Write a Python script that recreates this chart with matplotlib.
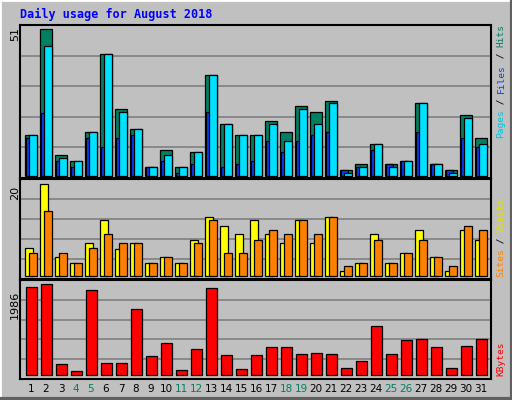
import numpy as np
import matplotlib.pyplot as plt
from matplotlib.lines import Line2D

days = np.arange(1, 32)
hits = [14.2, 51, 7.3, 5.2, 15.3, 42.3, 23.2, 16.3, 3.1, 9, 3.1, 8.3, 35, 18, 14.2, 14.2,
        19, 15.3, 24.3, 22.2, 26, 2, 4.2, 11, 4.2, 5.2, 25.3, 4.2, 2, 21, 13.2]
files = [14.2, 45, 6.2, 5.2, 15.3, 42.3, 22.2, 16.3, 3.1, 7.3, 3.1, 8.3, 35, 18, 14.2, 14.2,
         18, 12, 23.2, 18, 25.3, 1, 3.1, 11, 3.1, 5.2, 25.3, 4.2, 1, 20, 11]
pages = [13.2, 22, 5.2, 3.1, 13.2, 10, 13.2, 14.2, 3.1, 5.2, 1, 4.2, 22.2, 3.1, 4.2, 5.2,
         12, 8.3, 12, 14.2, 15.3, 2, 3.1, 9, 4.2, 5.2, 15.3, 4.2, 2, 13.2, 10]
visits = [6.1, 20, 4.1, 3, 7.2, 12.2, 6, 7.2, 3, 4.1, 3, 8, 13, 11, 9.1, 12.2,
          9.1, 7.2, 12.2, 7.2, 13, 1.1, 3, 9.1, 3, 5, 10, 4.1, 1.1, 10, 8]
sites = [5, 14.1, 5, 3, 6.1, 9.1, 7.2, 7.2, 3, 4.1, 3, 7.2, 12.2, 5, 5, 8,
         10, 9.1, 12.2, 9.1, 13, 2.2, 3, 8, 3, 5, 8, 4.1, 2.2, 11, 10]
kbytes = [1920, 1986, 240, 87, 1855, 262, 262, 1440, 415, 698, 109, 567, 1899, 436, 131, 436,
          611, 611, 458, 480, 458, 153, 306, 1069, 458, 764, 786, 611, 153, 633, 786]
weekend = [4, 5, 11, 12, 18, 19, 25, 26]

BG = '#C0C0C0'
W, H = 512, 400
fig = plt.figure(figsize=(5.12, 4.0), dpi=100, facecolor=BG)

# bevel border
fig.add_artist(Line2D([0, 0, 1], [0, 1, 1], transform=fig.transFigure, color='white', lw=2))
fig.add_artist(Line2D([0, 1, 1], [0.002, 0.002, 1], transform=fig.transFigure, color='#606060', lw=3))

fig.text(20 / W, 1 - 14 / H, 'Daily usage for August 2018', color='#0000FF', fontsize=8.5,
         fontweight='bold', family='DejaVu Sans Mono', va='center')

def mkax(top, bot):
    ax = fig.add_axes([20 / W, 1 - bot / H, 471 / W, (bot - top) / H])
    ax.set_facecolor(BG)
    ax.set_xlim(0.6667, 32.0667)
    ax.set_xticks([])
    ax.set_yticks([])
    for s in ax.spines.values():
        s.set_linewidth(1.5)
    for f in (0.2, 0.4, 0.6, 0.8):
        ax.plot([0, 1], [f, f], transform=ax.transAxes, color='#808080', lw=1.2, zorder=0)
    return ax

def setlim(ax, top, bot, base, ymax_px, ymax):
    ppu = (base - ymax_px) / ymax
    ax.set_ylim(-(bot - base) / ppu, ymax + (ymax_px - top) / ppu)

ek = dict(edgecolor='black', linewidth=0.9, align='edge')

ax1 = mkax(25, 178)
setlim(ax1, 25, 178, 176, 29, 51)
ax1.bar(days, hits, 0.78, color='#008060', **ek)
ax1.bar(days + 0.1, pages, 0.45, color='#0040FF', **ek)
ax1.bar(days + 0.29, files, 0.49, color='#00E0FF', **ek)

ax2 = mkax(179, 279)
setlim(ax2, 179, 279, 276.3, 184.3, 20)
ax2.bar(days, visits, 0.55, color='#FFFF00', **ek)
ax2.bar(days + 0.29, sites, 0.49, color='#FF8000', **ek)

ax3 = mkax(280, 379)
setlim(ax3, 280, 379, 375.3, 284.3, 1986)
ax3.bar(days + 0.07, kbytes, 0.71, color='#FF0000', **ek)

# left max labels
for y, t in ((34, '51'), (193, '20'), (305, '1986')):
    fig.text(15 / W, 1 - y / H, t, rotation=90, fontsize=8, ha='center', va='center',
             family='DejaVu Sans')

# right labels (multi colored, reading bottom to top)
FS = 6.8
def vlabel(ybot, parts):
    y = ybot
    step = 0.602 * FS * 100 / 72
    for t, c in parts:
        fig.text(501 / W, 1 - y / H, t, rotation=90, color=c, fontsize=FS,
                 family='DejaVu Sans Mono', ha='center', va='bottom')
        y -= len(t) * step

vlabel(138, [('Pages', '#00C0E0'), (' / ', 'black'), ('Files', '#0040FF'),
             (' / ', 'black'), ('Hits', '#008060')])
vlabel(277, [('Sites', '#FF8000'), (' / ', 'black'), ('Visits', '#E0E000')])
vlabel(376, [('KBytes', '#FF0000')])

for d in days:
    fig.text((20 + (d + 0.4 - 0.6667) * 15) / W, 1 - 389 / H, str(d), fontsize=7.5,
             ha='center', va='center', color='#008060' if d in weekend else 'black')

fig.savefig('out.png', dpi=100, facecolor=BG)
